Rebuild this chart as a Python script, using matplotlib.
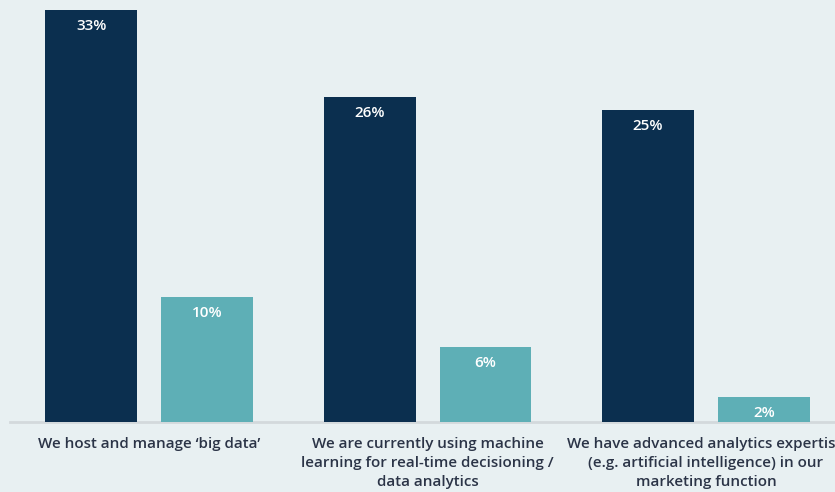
import matplotlib
matplotlib.use("Agg")
import matplotlib.pyplot as plt
import numpy as np

categories = [
    "We host and manage \u2018big data\u2019",
    "We are currently using machine\nlearning for real-time decisioning /\ndata analytics",
    "We have advanced analytics expertise\n(e.g. artificial intelligence) in our\nmarketing function",
]
series_a = [33, 26, 25]
series_b = [10, 6, 2]

navy = "#0b2f4f"
teal = "#5eafb6"
bg = "#e8f0f2"
text_col = "#2b3447"

plt.rcParams["font.family"] = ["Open Sans", "DejaVu Sans"]

fig = plt.figure(figsize=(8.35, 4.92), dpi=100, facecolor=bg)
ax = fig.add_axes([0, 70 / 492, 1, 422 / 492])
ax.set_facecolor(bg)

x = np.arange(len(categories))
width = 0.33
offset = 0.208

bars_a = ax.bar(x - offset, series_a, width, color=navy, zorder=2)
bars_b = ax.bar(x + offset, series_b, width, color=teal, zorder=2)

for bars, vals in ((bars_a, series_a), (bars_b, series_b)):
    for b, v in zip(bars, vals):
        ax.annotate(f"{v}%", (b.get_x() + b.get_width() / 2, v),
                    xytext=(0, -16), textcoords="offset pixels",
                    ha="center", va="center", color="white",
                    fontsize=11, fontweight="semibold", zorder=3)

ax.set_xlim(-0.535, 2.463)
ax.set_ylim(0, 33.81)
ax.axhline(0, xmin=10 / 835, xmax=1, color="#d3d9dc", lw=2, zorder=1, clip_on=False)

for spine in ax.spines.values():
    spine.set_visible(False)
ax.set_yticks([])
ax.set_xticks(x)
ax.set_xticklabels(categories, fontsize=10.9, fontweight="semibold", color=text_col,
                   linespacing=1.45)
ax.tick_params(axis="x", length=0, pad=11)

fig.savefig("out.png", dpi=100, facecolor=bg)
